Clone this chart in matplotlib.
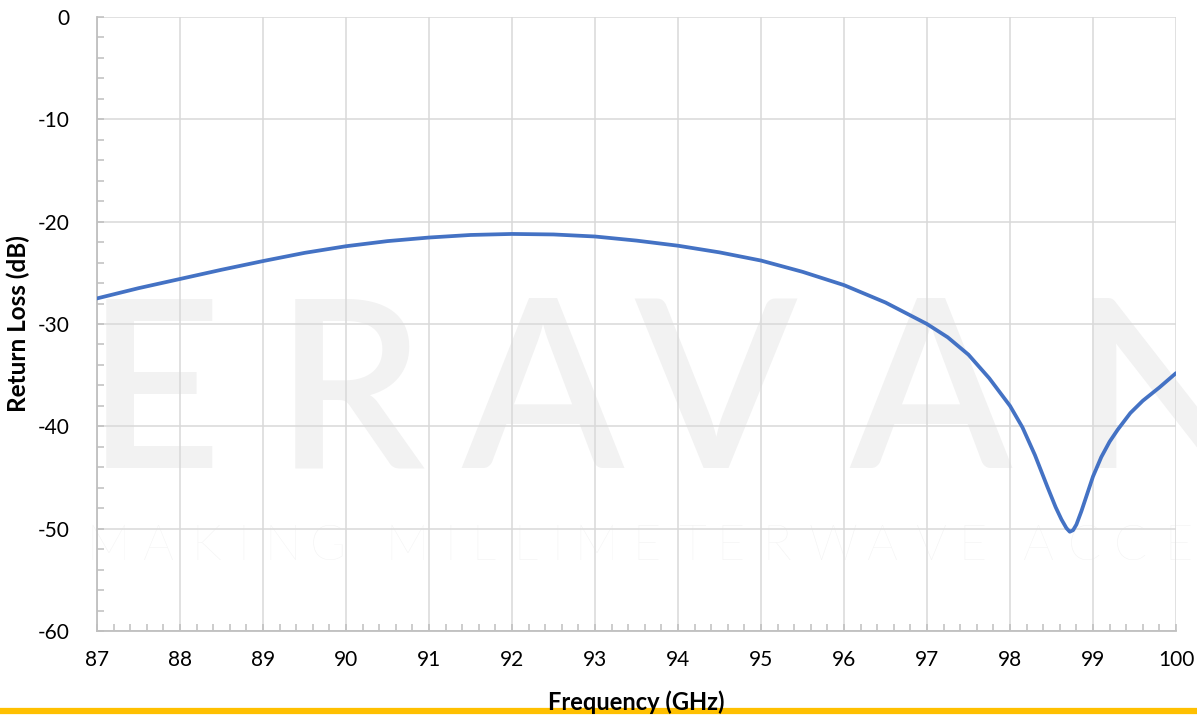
import matplotlib.pyplot as plt
from matplotlib.ticker import MultipleLocator
from matplotlib.lines import Line2D

plt.rcParams['font.family'] = ['Lato', 'DejaVu Sans']
plt.rcParams['axes.unicode_minus'] = False

# return loss
freq_ghz = [87, 87.5, 88, 88.5, 89, 89.5, 90, 90.5, 91, 91.5, 92, 92.5, 93, 93.5,
            94, 94.5, 95, 95.5, 96, 96.5, 97, 97.25, 97.5, 97.75, 98, 98.15, 98.3,
            98.45, 98.55, 98.62, 98.68, 98.72, 98.76, 98.8, 98.86, 98.93, 99.0,
            99.1, 99.2, 99.3, 99.45, 99.6, 99.8, 100]
return_loss_db = [-27.5, -26.5, -25.6, -24.7, -23.85, -23.05, -22.4, -21.9, -21.55, -21.3,
                  -21.2, -21.25, -21.45, -21.85, -22.35, -23.0, -23.8, -24.9, -26.2, -27.9,
                  -30.0, -31.3, -33.0, -35.3, -38.0, -40.1, -42.8, -45.9, -47.9, -49.1,
                  -49.95, -50.3, -50.15, -49.6, -48.3, -46.6, -44.9, -43.0, -41.5, -40.3,
                  -38.7, -37.5, -36.2, -34.8]

x_ticks = list(range(87, 101))
y_ticks = [0, -10, -20, -30, -40, -50, -60]

grid_col = '#d9d9d9'
axis_col = '#bfbfbf'
mark_col = '#f2f2f2'

fig = plt.figure(figsize=(11.97, 7.15), dpi=100)
ax = fig.add_axes([97 / 1197, 1 - 631 / 715, (1176 - 97) / 1197, (631 - 17) / 715])
ax.set_zorder(2)
ax.patch.set_alpha(0)

# watermark logo behind the plot
big = [('E', 86), ('R', 275), ('A', 461), ('V', 634), ('A', 849), ('N', 1072)]
for ch, px in big:
    fig.text(px / 1197, 1 - 468 / 715, ch, fontsize=170, color=mark_col,
             weight='semibold', ha='left', va='baseline', zorder=0)
small = [('M', 86), ('A', 143), ('K', 191), ('I', 237), ('N', 264), ('G', 310),
         ('M', 385), ('I', 444), ('L', 471), ('L', 513), ('I', 551), ('M', 574),
         ('E', 632), ('T', 678), ('E', 716), ('R', 762), ('W', 808), ('A', 867),
         ('V', 916), ('E', 958), ('A', 1023), ('C', 1068), ('C', 1114), ('E', 1164)]
for ch, px in small:
    fig.text(px / 1197, 1 - 560 / 715, ch, fontsize=35, color=mark_col,
             weight='light', ha='left', va='baseline', zorder=0)

ax.plot(freq_ghz, return_loss_db, color='#4472C4', lw=2.7, solid_capstyle='round', zorder=3)

ax.set_xlim(87, 100)
ax.set_ylim(-60, 0)
ax.set_xticks(x_ticks)
ax.set_yticks(y_ticks)
ax.xaxis.set_minor_locator(MultipleLocator(0.2))
ax.yaxis.set_minor_locator(MultipleLocator(2))
ax.grid(True, which='major', color=grid_col, lw=1.1)
ax.set_axisbelow(True)

for side in ['top', 'right']:
    ax.spines[side].set_visible(False)
for side in ['left', 'bottom']:
    ax.spines[side].set_color(axis_col)
    ax.spines[side].set_linewidth(1.3)

ax.tick_params(which='both', direction='in', color=axis_col, width=1.1, length=5,
               labelsize=15, labelcolor='black')
ax.tick_params(axis='x', which='major', pad=14)
ax.yaxis.set_tick_params(pad=20)

fig.text(18 / 1197, 1 - 324 / 715, 'Return Loss (dB)', rotation=90, fontsize=17.5,
         weight='bold', ha='center', va='center')

# yellow rule along the bottom, label sits on top of it
fig.add_artist(Line2D([0, 1], [1 - 710.5 / 715] * 2, color='#FFC000', lw=4.5,
                      transform=fig.transFigure, zorder=1))
fig.text(636 / 1197, 1 - 710 / 715, 'Frequency (GHz)', fontsize=17, weight='bold',
         ha='center', va='baseline', zorder=5)

fig.savefig('out.png', dpi=100)
